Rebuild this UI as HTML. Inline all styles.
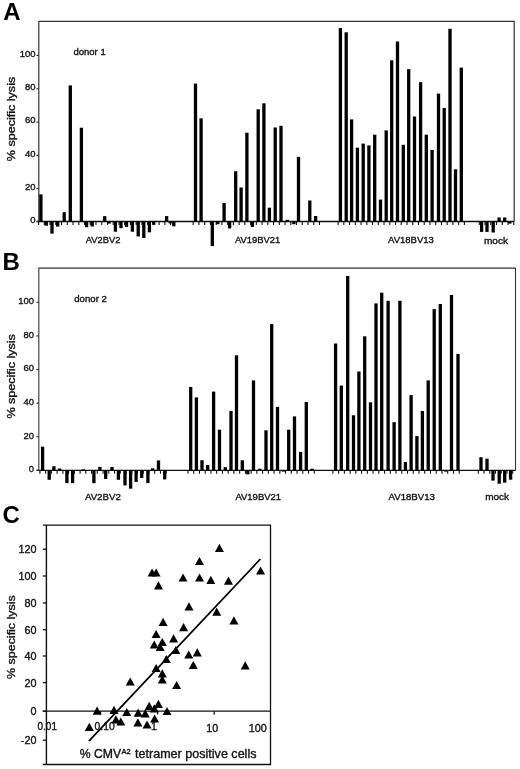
<!DOCTYPE html>
<html><head><meta charset="utf-8"><title>Figure</title>
<style>
html,body{margin:0;padding:0;background:#fff;}
svg{display:block;}
text{font-family:"Liberation Sans",Arial,sans-serif;fill:#111;stroke:#111;stroke-width:0.35px;}
.big{stroke:none;fill:#000;}
</style></head>
<body>
<svg width="520" height="769" viewBox="0 0 520 769">
<rect width="520" height="769" fill="#fff"/>
<path d="M38.8 221.5 V21.3 H514.2 V221.5" fill="none" stroke="#333" stroke-width="1.2"/>
<path d="M36.6 221.5 H514.2" fill="none" stroke="#111" stroke-width="1.4"/>
<path d="M36.4 55.4 H38.8" stroke="#333" stroke-width="1.2"/>
<text x="35.6" y="56.699999999999996" font-size="9.5" text-anchor="end">100</text>
<path d="M36.4 88.7 H38.8" stroke="#333" stroke-width="1.2"/>
<text x="35.6" y="90.0" font-size="9.5" text-anchor="end">80</text>
<path d="M36.4 122.1 H38.8" stroke="#333" stroke-width="1.2"/>
<text x="35.6" y="123.39999999999999" font-size="9.5" text-anchor="end">60</text>
<path d="M36.4 155.4 H38.8" stroke="#333" stroke-width="1.2"/>
<text x="35.6" y="156.70000000000002" font-size="9.5" text-anchor="end">40</text>
<path d="M36.4 188.5 H38.8" stroke="#333" stroke-width="1.2"/>
<text x="35.6" y="189.8" font-size="9.5" text-anchor="end">20</text>
<path d="M36.4 221.5 H38.8" stroke="#333" stroke-width="1.2"/>
<text x="35.6" y="222.8" font-size="9.5" text-anchor="end">0</text>
<path d="M38.60 221.5 v3.4 M44.34 221.5 v3.4 M50.08 221.5 v3.4 M55.82 221.5 v3.4 M61.56 221.5 v3.4 M67.30 221.5 v3.4 M73.04 221.5 v3.4 M78.78 221.5 v3.4 M84.52 221.5 v3.4 M90.26 221.5 v3.4 M96.00 221.5 v3.4 M101.74 221.5 v3.4 M107.48 221.5 v3.4 M113.22 221.5 v3.4 M118.96 221.5 v3.4 M124.70 221.5 v3.4 M130.44 221.5 v3.4 M136.18 221.5 v3.4 M141.92 221.5 v3.4 M147.66 221.5 v3.4 M153.40 221.5 v3.4 M159.14 221.5 v3.4 M164.88 221.5 v3.4 M170.62 221.5 v3.4 M193.20 221.5 v3.4 M198.94 221.5 v3.4 M204.68 221.5 v3.4 M210.42 221.5 v3.4 M216.16 221.5 v3.4 M221.90 221.5 v3.4 M227.64 221.5 v3.4 M233.38 221.5 v3.4 M239.12 221.5 v3.4 M244.86 221.5 v3.4 M250.60 221.5 v3.4 M256.34 221.5 v3.4 M262.08 221.5 v3.4 M267.82 221.5 v3.4 M273.56 221.5 v3.4 M279.30 221.5 v3.4 M285.04 221.5 v3.4 M290.78 221.5 v3.4 M296.52 221.5 v3.4 M302.26 221.5 v3.4 M308.00 221.5 v3.4 M313.74 221.5 v3.4 M319.48 221.5 v3.4 M338.10 221.5 v3.4 M343.84 221.5 v3.4 M349.58 221.5 v3.4 M355.32 221.5 v3.4 M361.06 221.5 v3.4 M366.80 221.5 v3.4 M372.54 221.5 v3.4 M378.28 221.5 v3.4 M384.02 221.5 v3.4 M389.76 221.5 v3.4 M395.50 221.5 v3.4 M401.24 221.5 v3.4 M406.98 221.5 v3.4 M412.72 221.5 v3.4 M418.46 221.5 v3.4 M424.20 221.5 v3.4 M429.94 221.5 v3.4 M435.68 221.5 v3.4 M441.42 221.5 v3.4 M447.16 221.5 v3.4 M452.90 221.5 v3.4 M458.64 221.5 v3.4 M464.38 221.5 v3.4 M479.30 221.5 v3.4 M485.04 221.5 v3.4 M490.78 221.5 v3.4 M496.52 221.5 v3.4 M502.26 221.5 v3.4 M508.00 221.5 v3.4 M513.74 221.5 v3.4" stroke="#111" stroke-width="1.1" fill="none"/>
<g fill="#000"><rect x="39.25" y="194.40" width="3.3" height="27.10"/>
<rect x="44.65" y="221.50" width="3.3" height="4.20"/>
<rect x="50.35" y="221.50" width="3.3" height="12.10"/>
<rect x="56.05" y="221.50" width="3.3" height="5.10"/>
<rect x="62.55" y="212.20" width="3.3" height="9.30"/>
<rect x="68.65" y="85.40" width="3.3" height="136.10"/>
<rect x="79.75" y="127.70" width="3.3" height="93.80"/>
<rect x="84.95" y="221.50" width="3.3" height="5.70"/>
<rect x="90.55" y="221.50" width="3.3" height="5.00"/>
<rect x="103.05" y="216.10" width="3.3" height="5.40"/>
<rect x="107.45" y="221.50" width="3.3" height="2.10"/>
<rect x="113.75" y="221.50" width="3.3" height="10.20"/>
<rect x="119.35" y="221.50" width="3.3" height="6.70"/>
<rect x="124.85" y="221.50" width="3.3" height="5.50"/>
<rect x="130.75" y="221.50" width="3.3" height="10.20"/>
<rect x="136.55" y="221.50" width="3.3" height="15.00"/>
<rect x="142.15" y="221.50" width="3.3" height="16.50"/>
<rect x="147.75" y="221.50" width="3.3" height="10.80"/>
<rect x="152.05" y="221.50" width="3.3" height="3.30"/>
<rect x="164.95" y="216.10" width="3.3" height="5.40"/>
<rect x="168.55" y="221.50" width="3.3" height="1.90"/>
<rect x="172.15" y="221.50" width="3.3" height="4.80"/>
<rect x="193.85" y="83.60" width="3.3" height="137.90"/>
<rect x="199.45" y="118.30" width="3.3" height="103.20"/>
<rect x="210.65" y="221.50" width="3.3" height="24.50"/>
<rect x="216.15" y="221.50" width="3.3" height="2.70"/>
<rect x="222.45" y="203.00" width="3.3" height="18.50"/>
<rect x="227.95" y="221.50" width="3.3" height="6.90"/>
<rect x="234.05" y="171.30" width="3.3" height="50.20"/>
<rect x="239.45" y="187.50" width="3.3" height="34.00"/>
<rect x="245.25" y="132.70" width="3.3" height="88.80"/>
<rect x="250.75" y="221.50" width="3.3" height="5.50"/>
<rect x="256.55" y="109.30" width="3.3" height="112.20"/>
<rect x="262.25" y="103.30" width="3.3" height="118.20"/>
<rect x="267.75" y="207.70" width="3.3" height="13.80"/>
<rect x="273.55" y="127.50" width="3.3" height="94.00"/>
<rect x="279.35" y="125.80" width="3.3" height="95.70"/>
<rect x="285.65" y="219.80" width="3.3" height="1.70"/>
<rect x="292.25" y="221.50" width="3.3" height="2.70"/>
<rect x="296.85" y="156.90" width="3.3" height="64.60"/>
<rect x="308.15" y="200.50" width="3.3" height="21.00"/>
<rect x="313.95" y="216.00" width="3.3" height="5.50"/>
<rect x="338.75" y="28.00" width="3.3" height="193.50"/>
<rect x="344.55" y="32.30" width="3.3" height="189.20"/>
<rect x="349.95" y="119.40" width="3.3" height="102.10"/>
<rect x="355.75" y="147.70" width="3.3" height="73.80"/>
<rect x="361.55" y="143.60" width="3.3" height="77.90"/>
<rect x="367.25" y="145.40" width="3.3" height="76.10"/>
<rect x="373.05" y="134.70" width="3.3" height="86.80"/>
<rect x="378.85" y="199.60" width="3.3" height="21.90"/>
<rect x="384.55" y="130.40" width="3.3" height="91.10"/>
<rect x="390.05" y="60.30" width="3.3" height="161.20"/>
<rect x="395.85" y="41.50" width="3.3" height="180.00"/>
<rect x="401.65" y="144.80" width="3.3" height="76.70"/>
<rect x="407.05" y="69.20" width="3.3" height="152.30"/>
<rect x="412.85" y="116.50" width="3.3" height="105.00"/>
<rect x="418.95" y="82.20" width="3.3" height="139.30"/>
<rect x="424.65" y="134.70" width="3.3" height="86.80"/>
<rect x="430.45" y="150.00" width="3.3" height="71.50"/>
<rect x="436.85" y="93.60" width="3.3" height="127.90"/>
<rect x="442.55" y="108.00" width="3.3" height="113.50"/>
<rect x="448.35" y="28.80" width="3.3" height="192.70"/>
<rect x="453.85" y="169.30" width="3.3" height="52.20"/>
<rect x="459.65" y="67.60" width="3.3" height="153.90"/>
<rect x="479.95" y="221.50" width="3.3" height="10.40"/>
<rect x="485.35" y="221.50" width="3.3" height="10.40"/>
<rect x="491.55" y="221.50" width="3.3" height="11.00"/>
<rect x="497.45" y="217.50" width="3.3" height="4.00"/>
<rect x="503.05" y="217.50" width="3.3" height="4.00"/>
<rect x="508.15" y="221.50" width="3.3" height="2.10"/></g>
<text x="73.5" y="54.6" font-size="9.5" text-anchor="start" textLength="32.2" lengthAdjust="spacingAndGlyphs">donor 1</text>
<text x="85.8" y="243.2" font-size="9.9" text-anchor="start" textLength="34.6" lengthAdjust="spacingAndGlyphs">AV2BV2</text>
<text x="234.9" y="243.2" font-size="9.9" text-anchor="start" textLength="45.4" lengthAdjust="spacingAndGlyphs">AV19BV21</text>
<text x="388" y="243.2" font-size="9.9" text-anchor="start" textLength="45.8" lengthAdjust="spacingAndGlyphs">AV18BV13</text>
<text x="484" y="243.6" font-size="9.6" text-anchor="start" textLength="24" lengthAdjust="spacingAndGlyphs">mock</text>
<text transform="translate(14.6 161.2) rotate(-90)" font-size="10.7" textLength="84.4" lengthAdjust="spacingAndGlyphs">% specific lysis</text>
<text x="3.2" y="20.2" class="big" font-size="24" font-weight="bold">A</text>
<path d="M38.8 470.4 V268.1 H515.5 V470.4" fill="none" stroke="#333" stroke-width="1.1"/>
<path d="M36.6 470.4 H515.5" fill="none" stroke="#111" stroke-width="1.4"/>
<path d="M36.4 302.3 H38.8" stroke="#333" stroke-width="1.2"/>
<text x="34.0" y="304.2" font-size="9.5" text-anchor="end">100</text>
<path d="M36.4 335.9 H38.8" stroke="#333" stroke-width="1.2"/>
<text x="34.0" y="337.79999999999995" font-size="9.5" text-anchor="end">80</text>
<path d="M36.4 369.5 H38.8" stroke="#333" stroke-width="1.2"/>
<text x="34.0" y="371.4" font-size="9.5" text-anchor="end">60</text>
<path d="M36.4 403.1 H38.8" stroke="#333" stroke-width="1.2"/>
<text x="34.0" y="405.0" font-size="9.5" text-anchor="end">40</text>
<path d="M36.4 436.7 H38.8" stroke="#333" stroke-width="1.2"/>
<text x="34.0" y="438.59999999999997" font-size="9.5" text-anchor="end">20</text>
<path d="M36.4 470.3 H38.8" stroke="#333" stroke-width="1.2"/>
<text x="34.0" y="472.2" font-size="9.5" text-anchor="end">0</text>
<path d="M39.90 470.4 v3.4 M45.64 470.4 v3.4 M51.38 470.4 v3.4 M57.12 470.4 v3.4 M62.86 470.4 v3.4 M68.60 470.4 v3.4 M74.34 470.4 v3.4 M80.08 470.4 v3.4 M85.82 470.4 v3.4 M91.56 470.4 v3.4 M97.30 470.4 v3.4 M103.04 470.4 v3.4 M108.78 470.4 v3.4 M114.52 470.4 v3.4 M120.26 470.4 v3.4 M126.00 470.4 v3.4 M131.74 470.4 v3.4 M137.48 470.4 v3.4 M143.22 470.4 v3.4 M148.96 470.4 v3.4 M154.70 470.4 v3.4 M160.44 470.4 v3.4 M166.18 470.4 v3.4 M188.00 470.4 v3.4 M193.74 470.4 v3.4 M199.48 470.4 v3.4 M205.22 470.4 v3.4 M210.96 470.4 v3.4 M216.70 470.4 v3.4 M222.44 470.4 v3.4 M228.18 470.4 v3.4 M233.92 470.4 v3.4 M239.66 470.4 v3.4 M245.40 470.4 v3.4 M251.14 470.4 v3.4 M256.88 470.4 v3.4 M262.62 470.4 v3.4 M268.36 470.4 v3.4 M274.10 470.4 v3.4 M279.84 470.4 v3.4 M285.58 470.4 v3.4 M291.32 470.4 v3.4 M297.06 470.4 v3.4 M302.80 470.4 v3.4 M308.54 470.4 v3.4 M314.28 470.4 v3.4 M332.90 470.4 v3.4 M338.64 470.4 v3.4 M344.38 470.4 v3.4 M350.12 470.4 v3.4 M355.86 470.4 v3.4 M361.60 470.4 v3.4 M367.34 470.4 v3.4 M373.08 470.4 v3.4 M378.82 470.4 v3.4 M384.56 470.4 v3.4 M390.30 470.4 v3.4 M396.04 470.4 v3.4 M401.78 470.4 v3.4 M407.52 470.4 v3.4 M413.26 470.4 v3.4 M419.00 470.4 v3.4 M424.74 470.4 v3.4 M430.48 470.4 v3.4 M436.22 470.4 v3.4 M441.96 470.4 v3.4 M447.70 470.4 v3.4 M453.44 470.4 v3.4 M459.18 470.4 v3.4 M478.30 470.4 v3.4 M484.04 470.4 v3.4 M489.78 470.4 v3.4 M495.52 470.4 v3.4 M501.26 470.4 v3.4 M507.00 470.4 v3.4 M512.74 470.4 v3.4" stroke="#111" stroke-width="1.1" fill="none"/>
<g fill="#000"><rect x="40.95" y="446.70" width="3.3" height="23.70"/>
<rect x="47.55" y="470.40" width="3.3" height="9.40"/>
<rect x="52.25" y="466.20" width="3.3" height="4.20"/>
<rect x="58.05" y="468.50" width="3.3" height="1.90"/>
<rect x="65.25" y="470.40" width="3.3" height="12.70"/>
<rect x="70.95" y="470.40" width="3.3" height="12.70"/>
<rect x="81.55" y="469.30" width="3.3" height="1.10"/>
<rect x="92.25" y="470.40" width="3.3" height="12.80"/>
<rect x="98.25" y="466.90" width="3.3" height="3.50"/>
<rect x="104.05" y="470.40" width="3.3" height="8.60"/>
<rect x="110.35" y="466.90" width="3.3" height="3.50"/>
<rect x="116.75" y="470.40" width="3.3" height="9.40"/>
<rect x="123.35" y="470.40" width="3.3" height="15.00"/>
<rect x="128.95" y="470.40" width="3.3" height="18.30"/>
<rect x="134.45" y="470.40" width="3.3" height="11.50"/>
<rect x="140.05" y="470.40" width="3.3" height="7.70"/>
<rect x="146.25" y="470.40" width="3.3" height="12.70"/>
<rect x="151.05" y="468.30" width="3.3" height="2.10"/>
<rect x="156.85" y="460.40" width="3.3" height="10.00"/>
<rect x="163.05" y="470.40" width="3.3" height="9.00"/>
<rect x="189.05" y="387.00" width="3.3" height="83.40"/>
<rect x="194.75" y="397.40" width="3.3" height="73.00"/>
<rect x="200.35" y="460.20" width="3.3" height="10.20"/>
<rect x="206.05" y="465.00" width="3.3" height="5.40"/>
<rect x="211.95" y="391.60" width="3.3" height="78.80"/>
<rect x="217.85" y="429.70" width="3.3" height="40.70"/>
<rect x="223.65" y="467.20" width="3.3" height="3.20"/>
<rect x="229.35" y="411.00" width="3.3" height="59.40"/>
<rect x="234.85" y="355.30" width="3.3" height="115.10"/>
<rect x="240.65" y="460.30" width="3.3" height="10.10"/>
<rect x="246.15" y="470.40" width="3.3" height="4.00"/>
<rect x="251.85" y="380.40" width="3.3" height="90.00"/>
<rect x="258.25" y="468.70" width="3.3" height="1.70"/>
<rect x="264.35" y="430.30" width="3.3" height="40.10"/>
<rect x="270.05" y="324.10" width="3.3" height="146.30"/>
<rect x="275.85" y="406.90" width="3.3" height="63.50"/>
<rect x="281.65" y="470.40" width="3.3" height="1.20"/>
<rect x="287.05" y="429.70" width="3.3" height="40.70"/>
<rect x="292.85" y="416.40" width="3.3" height="54.00"/>
<rect x="298.95" y="451.90" width="3.3" height="18.50"/>
<rect x="304.65" y="402.00" width="3.3" height="68.40"/>
<rect x="310.45" y="468.70" width="3.3" height="1.70"/>
<rect x="333.95" y="343.50" width="3.3" height="126.90"/>
<rect x="339.65" y="385.60" width="3.3" height="84.80"/>
<rect x="346.05" y="276.00" width="3.3" height="194.40"/>
<rect x="351.85" y="415.30" width="3.3" height="55.10"/>
<rect x="357.25" y="371.50" width="3.3" height="98.90"/>
<rect x="363.05" y="336.30" width="3.3" height="134.10"/>
<rect x="368.85" y="402.30" width="3.3" height="68.10"/>
<rect x="374.35" y="303.40" width="3.3" height="167.00"/>
<rect x="380.05" y="292.70" width="3.3" height="177.70"/>
<rect x="386.45" y="300.80" width="3.3" height="169.60"/>
<rect x="392.45" y="422.20" width="3.3" height="48.20"/>
<rect x="398.25" y="300.80" width="3.3" height="169.60"/>
<rect x="403.75" y="462.00" width="3.3" height="8.40"/>
<rect x="409.45" y="395.10" width="3.3" height="75.30"/>
<rect x="415.25" y="436.10" width="3.3" height="34.30"/>
<rect x="420.75" y="411.00" width="3.3" height="59.40"/>
<rect x="426.55" y="380.40" width="3.3" height="90.00"/>
<rect x="432.55" y="309.10" width="3.3" height="161.30"/>
<rect x="438.65" y="304.00" width="3.3" height="166.40"/>
<rect x="444.15" y="470.40" width="3.3" height="1.20"/>
<rect x="449.85" y="295.00" width="3.3" height="175.40"/>
<rect x="456.35" y="353.90" width="3.3" height="116.50"/>
<rect x="479.35" y="457.20" width="3.3" height="13.20"/>
<rect x="485.35" y="458.70" width="3.3" height="11.70"/>
<rect x="491.35" y="470.40" width="3.3" height="10.20"/>
<rect x="497.55" y="470.40" width="3.3" height="13.30"/>
<rect x="503.05" y="470.40" width="3.3" height="12.30"/>
<rect x="508.95" y="470.40" width="3.3" height="9.30"/></g>
<text x="74.2" y="302.3" font-size="9.5" text-anchor="start" textLength="32.7" lengthAdjust="spacingAndGlyphs">donor 2</text>
<text x="84.9" y="499.9" font-size="9.9" text-anchor="start" textLength="35.9" lengthAdjust="spacingAndGlyphs">AV2BV2</text>
<text x="235.4" y="499.9" font-size="9.9" text-anchor="start" textLength="45.7" lengthAdjust="spacingAndGlyphs">AV19BV21</text>
<text x="388.5" y="499.9" font-size="9.9" text-anchor="start" textLength="46.4" lengthAdjust="spacingAndGlyphs">AV18BV13</text>
<text x="485.2" y="500.2" font-size="9.6" text-anchor="start" textLength="23.8" lengthAdjust="spacingAndGlyphs">mock</text>
<text transform="translate(14.6 418.6) rotate(-90)" font-size="10.7" textLength="84.4" lengthAdjust="spacingAndGlyphs">% specific lysis</text>
<text x="2.4" y="270.3" class="big" font-size="24" font-weight="bold">B</text>
<path d="M42.8 525.2 H270.5 V764.5 H42.8" fill="none" stroke="#111" stroke-width="1.3"/>
<path d="M46.4 525.2 V764.5" fill="none" stroke="#111" stroke-width="1.4"/>
<path d="M42.8 711.2 H270.5" fill="none" stroke="#111" stroke-width="1.2"/>
<path d="M42.8 549.2 H46.4" stroke="#111" stroke-width="1.3"/>
<text x="36.4" y="553.1" font-size="10.8" text-anchor="end">120</text>
<path d="M42.8 576.0 H46.4" stroke="#111" stroke-width="1.3"/>
<text x="36.4" y="579.9" font-size="10.8" text-anchor="end">100</text>
<path d="M42.8 602.9 H46.4" stroke="#111" stroke-width="1.3"/>
<text x="36.4" y="606.8" font-size="10.8" text-anchor="end">80</text>
<path d="M42.8 629.7 H46.4" stroke="#111" stroke-width="1.3"/>
<text x="36.4" y="633.6" font-size="10.8" text-anchor="end">60</text>
<path d="M42.8 656.0 H46.4" stroke="#111" stroke-width="1.3"/>
<text x="36.4" y="659.9" font-size="10.8" text-anchor="end">40</text>
<path d="M42.8 682.6 H46.4" stroke="#111" stroke-width="1.3"/>
<text x="36.4" y="686.5" font-size="10.8" text-anchor="end">20</text>
<path d="M42.8 711.2 H46.4" stroke="#111" stroke-width="1.3"/>
<text x="36.4" y="715.1" font-size="10.8" text-anchor="end">0</text>
<path d="M42.8 740.2 H46.4" stroke="#111" stroke-width="1.3"/>
<text x="36.4" y="744.1" font-size="10.8" text-anchor="end">-20</text>
<text x="37.5" y="730.3" font-size="10.5" text-anchor="start" textLength="19.5" lengthAdjust="spacingAndGlyphs">0.01</text>
<text x="94.6" y="730.3" font-size="10.5" text-anchor="start" textLength="20.2" lengthAdjust="spacingAndGlyphs">0.10</text>
<text x="153.8" y="730.3" font-size="10.5" text-anchor="middle">1</text>
<text x="212.2" y="731.5" font-size="10.7" text-anchor="middle">10</text>
<text x="248.8" y="731.5" font-size="10.7" text-anchor="start" textLength="18" lengthAdjust="spacingAndGlyphs">100</text>
<path d="M100.6 711.2 v3.3 M157.6 711.2 v3.3 M214.2 711.2 v3.5" stroke="#111" stroke-width="1.2"/>
<text x="79.8" y="758.0" font-size="12.4" text-anchor="start" textLength="41.4" lengthAdjust="spacingAndGlyphs">% CMV</text>
<text x="121.4" y="754.4" font-size="8" text-anchor="start" textLength="9.2" lengthAdjust="spacingAndGlyphs">A2</text>
<text x="135" y="758.0" font-size="12.4" text-anchor="start" textLength="121.5" lengthAdjust="spacingAndGlyphs">tetramer positive cells</text>
<text transform="translate(15.3 679.0) rotate(-90)" font-size="11" textLength="83.8" lengthAdjust="spacingAndGlyphs">% specific lysis</text>
<text x="2.6" y="522.8" class="big" font-size="24" font-weight="bold">C</text>
<path d="M88.9 741.2 L260.4 559.0" stroke="#000" stroke-width="1.7" fill="none"/>
<g fill="#000"><path d="M214.9 551.9 L219.4 543.8 L223.9 551.9 Z"/><path d="M195.0 565.1 L199.5 557.0 L204.0 565.1 Z"/><path d="M147.6 576.6 L152.1 568.5 L156.6 576.6 Z"/><path d="M151.6 576.6 L156.1 568.5 L160.6 576.6 Z"/><path d="M178.5 581.5 L183.0 573.4 L187.5 581.5 Z"/><path d="M195.0 581.5 L199.5 573.4 L204.0 581.5 Z"/><path d="M206.3 583.9 L210.8 575.8 L215.3 583.9 Z"/><path d="M224.0 584.8 L228.5 576.6 L233.0 584.8 Z"/><path d="M256.1 574.5 L260.6 566.4 L265.1 574.5 Z"/><path d="M154.0 589.4 L158.5 581.2 L163.0 589.4 Z"/><path d="M184.5 610.4 L189.0 602.2 L193.5 610.4 Z"/><path d="M212.2 615.8 L216.7 607.6 L221.2 615.8 Z"/><path d="M229.4 624.4 L233.9 616.2 L238.4 624.4 Z"/><path d="M158.6 625.9 L163.1 617.8 L167.6 625.9 Z"/><path d="M179.1 631.2 L183.6 623.1 L188.1 631.2 Z"/><path d="M151.6 638.1 L156.1 630.0 L160.6 638.1 Z"/><path d="M169.1 642.4 L173.6 634.3 L178.1 642.4 Z"/><path d="M157.8 645.9 L162.3 637.8 L166.8 645.9 Z"/><path d="M149.7 648.6 L154.2 640.5 L158.7 648.6 Z"/><path d="M155.7 651.1 L160.2 643.0 L164.7 651.1 Z"/><path d="M171.3 654.0 L175.8 645.9 L180.3 654.0 Z"/><path d="M192.8 656.4 L197.3 648.3 L201.8 656.4 Z"/><path d="M184.2 658.6 L188.7 650.5 L193.2 658.6 Z"/><path d="M161.8 663.1 L166.3 655.0 L170.8 663.1 Z"/><path d="M188.8 668.9 L193.3 660.8 L197.8 668.9 Z"/><path d="M240.7 669.4 L245.2 661.2 L249.7 669.4 Z"/><path d="M151.6 672.0 L156.1 663.9 L160.6 672.0 Z"/><path d="M157.8 677.4 L162.3 669.3 L166.8 677.4 Z"/><path d="M157.8 683.4 L162.3 675.2 L166.8 683.4 Z"/><path d="M172.1 689.0 L176.6 680.9 L181.1 689.0 Z"/><path d="M125.7 685.6 L130.2 677.5 L134.7 685.6 Z"/><path d="M153.9 707.9 L158.4 699.8 L162.9 707.9 Z"/><path d="M144.7 709.9 L149.2 701.8 L153.7 709.9 Z"/><path d="M149.8 712.4 L154.3 704.3 L158.8 712.4 Z"/><path d="M162.5 715.1 L167.0 707.0 L171.5 715.1 Z"/><path d="M133.7 716.8 L138.2 708.6 L142.7 716.8 Z"/><path d="M140.7 717.4 L145.2 709.2 L149.7 717.4 Z"/><path d="M150.1 722.5 L154.6 714.4 L159.1 722.5 Z"/><path d="M133.4 726.4 L137.9 718.3 L142.4 726.4 Z"/><path d="M142.5 728.6 L147.0 720.5 L151.5 728.6 Z"/><path d="M92.6 714.8 L97.1 706.6 L101.6 714.8 Z"/><path d="M109.5 713.9 L114.0 705.8 L118.5 713.9 Z"/><path d="M122.2 716.1 L126.7 708.0 L131.2 716.1 Z"/><path d="M84.8 730.9 L89.3 722.8 L93.8 730.9 Z"/><path d="M111.4 723.4 L115.9 715.2 L120.4 723.4 Z"/><path d="M116.3 725.5 L120.8 717.4 L125.3 725.5 Z"/></g>
</svg>
</body></html>
